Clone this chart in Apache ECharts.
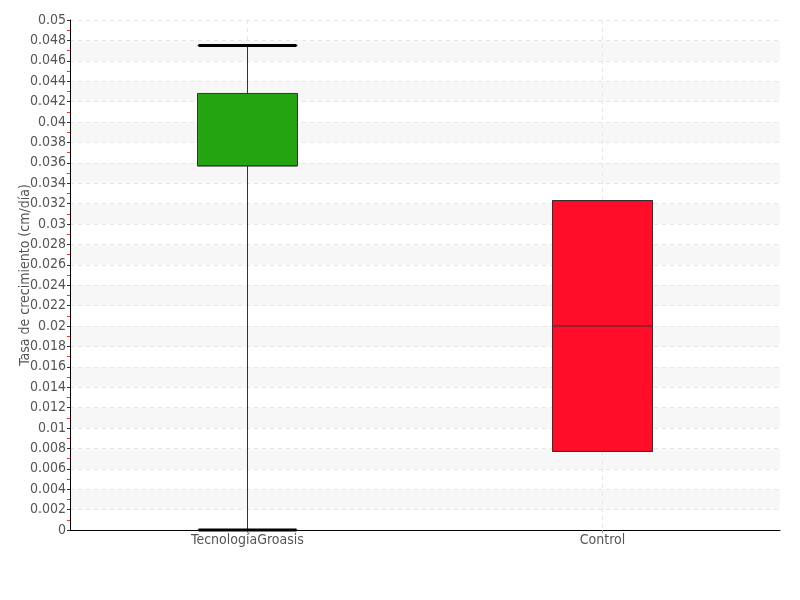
<!DOCTYPE html>
<html><head><meta charset="utf-8">
<script src="https://cdn.jsdelivr.net/npm/echarts@6/dist/echarts.min.js"></script>
<style>html,body{margin:0;padding:0;background:#fff}#c{width:800px;height:600px}</style>
</head><body><div id="c"></div>
<script>
const categories = ['TecnologíaGroasis', 'Control'];
// [min, Q1, median, Q3, max]
const boxValues = [
  [0, 0.0357, 0.0357, 0.0428, 0.0475],
  [0.0077, 0.0077, 0.0200, 0.0323, 0.0323]
];
const boxColors = ['#22a50e', '#ff0d29'];
const yMin = 0, yMax = 0.05, yInterval = 0.002;

const FONT = "'DejaVu Sans Condensed','Liberation Sans Narrow','DejaVu Sans',sans-serif";
const chart = echarts.init(document.getElementById('c'));
const capData = [];
boxValues.forEach((v, i) => {
  if (v[0] < v[1]) capData.push([i, v[0]]);
  if (v[4] > v[3]) capData.push([i, v[4]]);
});
chart.setOption({
  animation: false,
  backgroundColor: '#fff',
  grid: { left: 70, right: 20, top: 20, bottom: 70, containLabel: false, outerBoundsMode: 'none' },
  xAxis: {
    type: 'category',
    data: categories,
    boundaryGap: true,
    axisLine: { lineStyle: { color: '#000', width: 1 } },
    axisTick: { show: true, alignWithLabel: true, length: 3, lineStyle: { color: '#999' } },
    axisLabel: { color: '#555', fontSize: 14, fontFamily: FONT, margin: 3 },
    splitLine: { show: true, alignWithLabel: true, lineStyle: { color: '#e6e6e6', type: [4, 4] } }
  },
  yAxis: {
    type: 'value',
    min: yMin, max: yMax, interval: yInterval,
    name: 'Tasa de crecimiento (cm/día)',
    nameLocation: 'middle',
    nameGap: 38,
    nameMoveOverlap: false,
    nameTextStyle: { color: '#555', fontSize: 14, fontFamily: FONT },
    axisLine: { show: true, lineStyle: { color: '#000', width: 1 } },
    axisTick: { show: true, length: 3, lineStyle: { color: '#333' } },
    minorTick: { show: true, splitNumber: 2, length: 3, lineStyle: { color: '#ff3030' } },
    axisLabel: { color: '#555', fontSize: 14, fontFamily: FONT, margin: 4 },
    splitLine: { show: true, lineStyle: { color: '#e6e6e6', type: [4, 4] } },
    splitArea: { show: true, areaStyle: { color: ['#ffffff', '#f7f7f7'] } }
  },
  series: [
    {
      type: 'boxplot',
      boxWidth: [100, 100],
      data: boxValues.map((v, i) => ({
        value: v,
        itemStyle: { color: boxColors[i], borderColor: '#333', borderWidth: 1 }
      }))
    },
    {
      type: 'custom',
      data: capData,
      renderItem: function (params, api) {
        const p = api.coord([api.value(0), api.value(1)]);
        const half = 49;
        return {
          type: 'line',
          shape: { x1: p[0] - half, y1: p[1], x2: p[0] + half, y2: p[1] },
          style: { stroke: '#000', lineWidth: 3 }
        };
      },
      z: 5
    }
  ]
});
</script></body></html>
